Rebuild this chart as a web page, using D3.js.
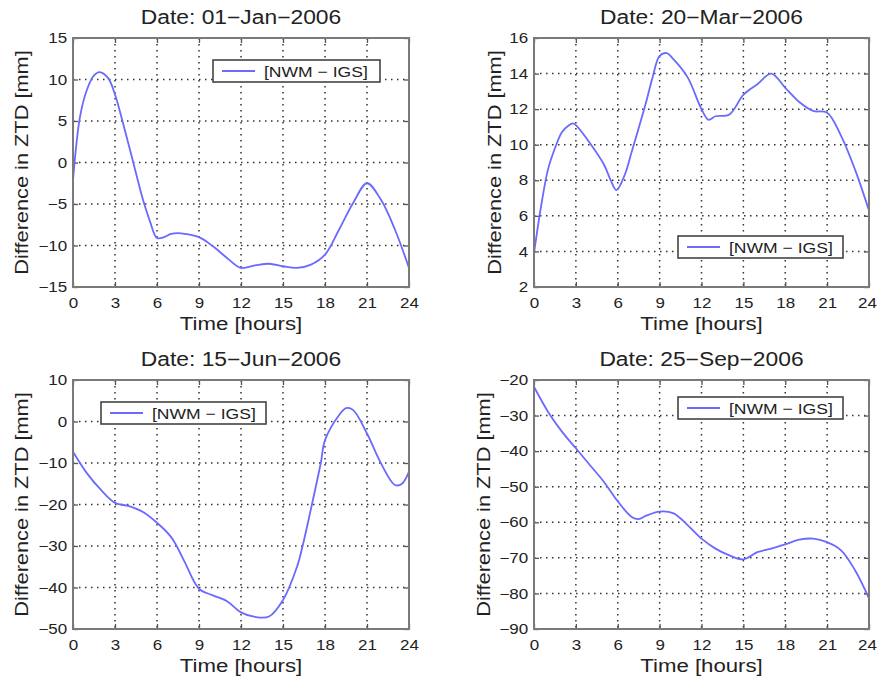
<!DOCTYPE html>
<html><head><meta charset="utf-8">
<script src="https://cdn.jsdelivr.net/npm/d3@7"></script>
<style>
body{margin:0;background:#fff}
text{font-family:"Liberation Sans",Arial,Helvetica,sans-serif;fill:#222}
</style>
</head><body>
<svg id="c" width="877" height="681"></svg>
<script>
// ---- data ----
const titles = ["Date: 01−Jan−2006", "Date: 20−Mar−2006", "Date: 15−Jun−2006", "Date: 25−Sep−2006"];
const legendLabel = "[NWM − IGS]";
const xLabel = "Time [hours]";
const yLabel = "Difference in ZTD [mm]";
const xTicks = [0, 3, 6, 9, 12, 15, 18, 21, 24];

const hoursJan = [0,0.5,1,1.5,1.9,2.5,3,3.5,4,4.5,5,5.5,6,6.5,7,7.5,8,9,10,11,12,13,14,15,16,17,18,19,20,21,22,23,24];
const ztdJan   = [-2.1,5.5,8.8,10.5,10.9,10.2,8.2,5.2,2,-1.3,-4.5,-7.1,-9.1,-9,-8.6,-8.5,-8.6,-9,-10.1,-11.5,-12.7,-12.4,-12.2,-12.5,-12.7,-12.3,-11.1,-8.1,-4.9,-2.5,-4.5,-8.1,-12.7];
const yTicksJan = [-15,-10,-5,0,5,10,15];

const hoursMar = [0,0.5,1,1.5,2,2.5,2.8,3,4,5,5.5,5.9,6.5,7,8,8.5,9,9.5,10,11,12,12.5,13,14,15,16,17,18,19,20,21,22,23,24];
const ztdMar   = [3.9,6.5,8.6,9.8,10.7,11.1,11.2,11.1,10.1,8.9,8.0,7.45,8.3,9.6,12.3,13.8,15.0,15.15,14.8,13.8,12.0,11.4,11.6,11.7,12.8,13.4,14.0,13.2,12.4,11.9,11.8,10.5,8.6,6.3];
const yTicksMar = [2,4,6,8,10,12,14,16];

const hoursJun = [0,1,2,3,4,5,6,7,7.4,8,9,10,11,12,13,14,15,16,16.4,17,17.7,18,19,19.5,20,21,22,23,23.5,24];
const ztdJun   = [-7.3,-12.5,-16.5,-19.6,-20.4,-21.8,-24.4,-27.8,-30,-34,-40.3,-41.9,-43.3,-46,-47.1,-47,-43,-35,-30,-21,-10,-4.5,1.5,3.2,2.8,-2.9,-10.1,-15.3,-15,-12.1];
const yTicksJun = [-50,-40,-30,-20,-10,0,10];

const hoursSep = [0,1,2,3,4,5,6,7,7.5,8,9,10,11,12,13,14,15,16,17,18,19,20,21,22,23,24];
const ztdSep   = [-21.9,-28.9,-34.5,-39.2,-43.9,-48.6,-54.1,-58.5,-59.1,-58.2,-57.0,-57.5,-60.8,-64.6,-67.4,-69.3,-70.4,-68.4,-67.4,-66.2,-64.9,-64.6,-65.6,-67.9,-73.5,-81.4];
const yTicksSep = [-90,-80,-70,-60,-50,-40,-30,-20];

// ---- layout ----
const panels = [
  {hours: hoursJan, ztd: ztdJan, yTicks: yTicksJan, title: titles[0],
   L: 73, R: 409, T: 38, B: 287, yLabX: 28, leg: {x: 213, y: 60, w: 167, h: 22}},
  {hours: hoursMar, ztd: ztdMar, yTicks: yTicksMar, title: titles[1],
   L: 534, R: 869, T: 38, B: 287, yLabX: 501, leg: {x: 678, y: 236, w: 165, h: 22}},
  {hours: hoursJun, ztd: ztdJun, yTicks: yTicksJun, title: titles[2],
   L: 73, R: 409, T: 380, B: 629, yLabX: 28, leg: {x: 101, y: 402, w: 165, h: 22}},
  {hours: hoursSep, ztd: ztdSep, yTicks: yTicksSep, title: titles[3],
   L: 534, R: 869, T: 380, B: 629, yLabX: 490, leg: {x: 678, y: 397, w: 165, h: 22}}
];

const SX = 1.17;      // horizontal stretch of text to mimic the original rendering
const lineColor = "#6a6aff";
const W = 877;
const svg = d3.select("#c");

function stretchedText(g, x, y, str, size, anchor, rotate) {
  return g.append("g")
    .attr("transform", `translate(${x},${y})` + (rotate ? ` rotate(${rotate})` : "") + ` scale(${SX},1)`)
    .append("text")
    .attr("text-anchor", anchor)
    .attr("font-size", size)
    .text(str);
}

panels.forEach(p => {
  const g = svg.append("g");
  const x = d3.scaleLinear().domain([0, 24]).range([p.L, p.R]);
  const y = d3.scaleLinear().domain([p.yTicks[0], p.yTicks[p.yTicks.length - 1]]).range([p.B, p.T]);

  // grid
  const grid = g.append("g").attr("stroke", "#333").attr("stroke-width", 1.5)
    .attr("stroke-dasharray", "1.5,4.5");
  grid.selectAll(".vx").data(xTicks.slice(1, -1)).join("line")
    .attr("x1", d => x(d)).attr("x2", d => x(d)).attr("y1", p.T).attr("y2", p.B);
  grid.selectAll(".hy").data(p.yTicks.slice(1, -1)).join("line")
    .attr("x1", p.L).attr("x2", p.R).attr("y1", d => y(d)).attr("y2", d => y(d));

  // axes (ticks inward on all sides)
  const styleAxis = sel => {
    sel.select(".domain").remove();
    sel.selectAll(".tick line").attr("stroke", "#555").attr("stroke-width", 1.3);
  };
  const bx = g.append("g").attr("transform", `translate(0,${p.B})`)
    .call(d3.axisBottom(x).tickValues(xTicks).tickSize(-5).tickPadding(11).tickFormat(d3.format("d")))
    .call(styleAxis);
  bx.selectAll(".tick text").attr("font-size", 14.5).attr("fill", "#222")
    .attr("font-family", '"Liberation Sans",Arial,sans-serif').attr("transform", `scale(${SX},1)`)
    // keep the last label inside the window when the axis ends at its edge
    .attr("dx", d => (x(d) + 10 > W ? W - 10 - x(d) : 0) / SX);
  g.append("g").attr("transform", `translate(0,${p.T})`)
    .call(d3.axisTop(x).tickValues(xTicks).tickSize(-5).tickFormat(""))
    .call(styleAxis);
  const ly = g.append("g").attr("transform", `translate(${p.L},0)`)
    .call(d3.axisLeft(y).tickValues(p.yTicks).tickSize(-5).tickPadding(5).tickFormat(d3.format("d")))
    .call(styleAxis);
  ly.selectAll(".tick text").attr("font-size", 14.5).attr("fill", "#222")
    .attr("font-family", '"Liberation Sans",Arial,sans-serif').attr("transform", `scale(${SX},1)`);
  g.append("g").attr("transform", `translate(${p.R},0)`)
    .call(d3.axisRight(y).tickValues(p.yTicks).tickSize(-5).tickFormat(""))
    .call(styleAxis);

  // curve
  const line = d3.line().x((d, i) => x(p.hours[i])).y(d => y(d)).curve(d3.curveCatmullRom.alpha(0.5));
  g.append("path").datum(p.ztd).attr("d", line)
    .attr("fill", "none").attr("stroke", lineColor).attr("stroke-width", 1.8);

  // box
  g.append("rect").attr("x", p.L).attr("y", p.T).attr("width", p.R - p.L).attr("height", p.B - p.T)
    .attr("fill", "none").attr("stroke", "#7a7a7a").attr("stroke-width", 2);

  // legend
  const lg = g.append("g");
  lg.append("rect").attr("x", p.leg.x).attr("y", p.leg.y).attr("width", p.leg.w).attr("height", p.leg.h)
    .attr("fill", "#fff").attr("stroke", "#444").attr("stroke-width", 1.6);
  const cy = p.leg.y + p.leg.h / 2;
  lg.append("line").attr("x1", p.leg.x + 9).attr("x2", p.leg.x + 42).attr("y1", cy).attr("y2", cy)
    .attr("stroke", lineColor).attr("stroke-width", 1.8);
  stretchedText(lg, p.leg.x + 51, cy + 5.5, legendLabel, 15, "start");

  // titles and labels
  stretchedText(g, (p.L + p.R) / 2, p.T - 14, p.title, 19.5, "middle");
  stretchedText(g, (p.L + p.R) / 2, p.B + 43, xLabel, 19, "middle");
  stretchedText(g, p.yLabX, (p.T + p.B) / 2, yLabel, 18.6, "middle", -90);
});
</script>
</body></html>
